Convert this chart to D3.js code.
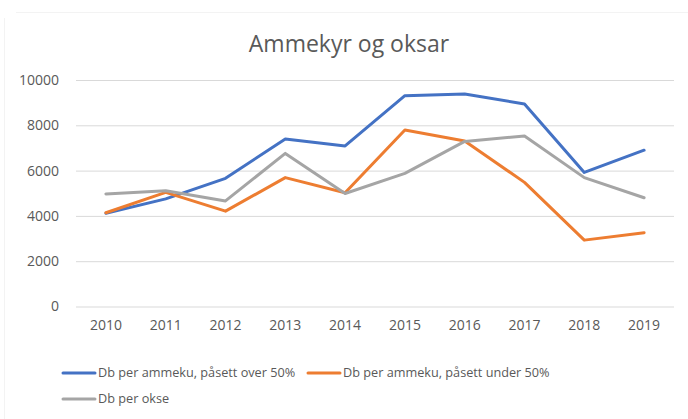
<!DOCTYPE html>
<html>
<head>
<meta charset="utf-8">
<script src="https://cdn.jsdelivr.net/npm/d3@7"></script>
<style>
  body { margin: 0; background: #fff; }
  text { font-family: "Open Sans", sans-serif; fill: #595959; }
</style>
</head>
<body>
<div id="chart"></div>
<script>
// Data
var years = ["2010", "2011", "2012", "2013", "2014", "2015", "2016", "2017", "2018", "2019"];
var over50 = [4120, 4750, 5660, 7400, 7090, 9310, 9380, 8940, 5920, 6900];
var under50 = [4140, 5040, 4210, 5690, 5020, 7790, 7310, 5480, 2930, 3260];
var okse = [4970, 5110, 4660, 6760, 4990, 5880, 7290, 7530, 5690, 4800];
var seriesNames = ["Db per ammeku, påsett over 50%", "Db per ammeku, påsett under 50%", "Db per okse"];
var yTicks = [0, 2000, 4000, 6000, 8000, 10000];

var colors = ["#4472C4", "#ED7D31", "#A5A5A5"];
var allSeries = [over50, under50, okse];

var w = 688, h = 419;

var svg = d3.select("#chart")
    .append("svg")
    .attr("width", w)
    .attr("height", h);

// faint chart frame
svg.append("line").attr("x1", 16).attr("x2", 688).attr("y1", 12.5).attr("y2", 12.5)
    .attr("stroke", "#f3f3f3");
svg.append("line").attr("x1", 4.5).attr("x2", 4.5).attr("y1", 18).attr("y2", 419)
    .attr("stroke", "#f3f3f3");

var x = d3.scaleBand()
    .domain(years)
    .range([76, 674]);

var y = d3.scaleLinear()
    .domain([0, 10000])
    .range([306.5, 80]);

// title
svg.append("text")
    .attr("x", 349)
    .attr("y", 52)
    .attr("text-anchor", "middle")
    .style("font-size", "23px")
    .text("Ammekyr og oksar");

// gridlines + y labels
var yAxis = d3.axisLeft(y)
    .tickValues(yTicks)
    .tickSize(-(674 - 76))
    .tickPadding(17)
    .tickFormat(d3.format("d"));

var gy = svg.append("g")
    .attr("transform", "translate(76,0)")
    .call(yAxis);
gy.select(".domain").remove();
gy.selectAll(".tick line").attr("stroke", "#d9d9d9").attr("stroke-width", 1);
gy.selectAll(".tick text").style("font-size", "14px").attr("fill", "#595959");

// x labels
var xAxis = d3.axisBottom(x).tickSize(0).tickPadding(14);
var gx = svg.append("g")
    .attr("transform", "translate(0,306.5)")
    .call(xAxis);
gx.select(".domain").remove();
gx.selectAll(".tick text").style("font-size", "14px").attr("fill", "#595959");

// lines
var line = d3.line()
    .x(function(d, i) { return x(years[i]) + x.bandwidth() / 2; })
    .y(function(d) { return y(d); });

svg.selectAll("path.series")
    .data(allSeries)
    .enter()
    .append("path")
    .attr("class", "series")
    .attr("d", line)
    .attr("fill", "none")
    .attr("stroke", function(d, i) { return colors[i]; })
    .attr("stroke-width", 3)
    .attr("stroke-linejoin", "round")
    .attr("stroke-linecap", "round");

// legend
var legendPos = [[63, 373], [308, 373], [63, 399]];
var legend = svg.selectAll("g.legend")
    .data(seriesNames)
    .enter()
    .append("g")
    .attr("class", "legend")
    .attr("transform", function(d, i) { return "translate(" + legendPos[i][0] + "," + legendPos[i][1] + ")"; });

legend.append("line")
    .attr("x1", 0).attr("x2", 32)
    .attr("stroke", function(d, i) { return colors[i]; })
    .attr("stroke-width", 3)
    .attr("stroke-linecap", "round");

legend.append("text")
    .attr("x", 35)
    .attr("dy", "0.35em")
    .style("font-size", "12.7px")
    .text(function(d) { return d; });
</script>
</body>
</html>
